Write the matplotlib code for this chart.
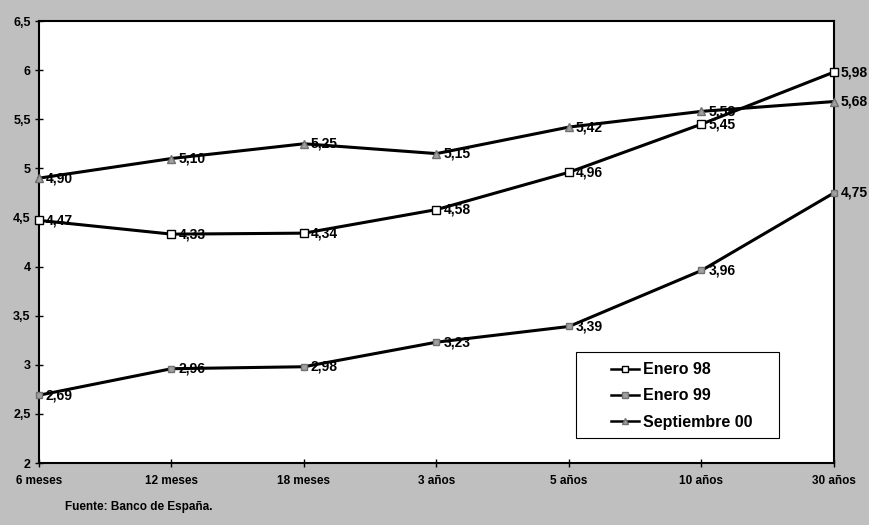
import matplotlib
matplotlib.use("Agg")
import matplotlib.pyplot as plt
from matplotlib.patches import Rectangle
from matplotlib.ticker import FuncFormatter

plt.rcParams['font.family'] = ['Liberation Sans', 'DejaVu Sans']
plt.rcParams['font.weight'] = 'bold'

plazos = ['6 meses', '12 meses', '18 meses', '3 años', '5 años', '10 años', '30 años']
enero_98 = [4.47, 4.33, 4.34, 4.58, 4.96, 5.45, 5.98]
enero_99 = [2.69, 2.96, 2.98, 3.23, 3.39, 3.96, 4.75]
septiembre_00 = [4.90, 5.10, 5.25, 5.15, 5.42, 5.58, 5.68]

W, H = 870, 525
fig = plt.figure(figsize=(W / 100, H / 100), dpi=100, facecolor='#bfbfbf')
ax = fig.add_axes([39 / W, 1 - 463 / H, 795 / W, 442 / H])
ax.set_facecolor('white')

x = list(range(len(plazos)))
series = [
    ('Enero 98', enero_98, dict(marker='s', markerfacecolor='white', markeredgecolor='black', markersize=6)),
    ('Enero 99', enero_99, dict(marker='s', markerfacecolor='#a0a0a0', markeredgecolor='#707070', markersize=5)),
    ('Septiembre 00', septiembre_00, dict(marker='^', markerfacecolor='#a0a0a0', markeredgecolor='#707070', markersize=6)),
]
for nombre, vals, estilo in series:
    ax.plot(x, vals, color='black', lw=2.2, label=nombre, clip_on=False, zorder=3, **estilo)
    for xi, v in zip(x, vals):
        ax.annotate(f'{v:.2f}'.replace('.', ','), (xi, v), xytext=(5, 0), textcoords='offset points',
                    ha='left', va='center', fontsize=10, fontweight='bold', zorder=4)

ax.set_xlim(0, len(plazos) - 1)
ax.set_ylim(2, 6.5)
ax.set_xticks(x)
ax.set_xticklabels(plazos, fontsize=8.5, fontweight='bold')
ax.set_yticks([2, 2.5, 3, 3.5, 4, 4.5, 5, 5.5, 6, 6.5])
ax.yaxis.set_major_formatter(FuncFormatter(lambda v, p: f'{v:g}'.replace('.', ',')))
for t in ax.get_yticklabels():
    t.set_fontsize(9)
    t.set_fontweight('bold')
ax.tick_params(direction='inout', length=6, width=1, colors='black')
ax.tick_params(axis='x', pad=6)
ax.tick_params(axis='y', pad=3)
for s in ax.spines.values():
    s.set_linewidth(1.5)

# cuadro de la leyenda
fig.add_artist(Rectangle((576 / W, 1 - 438 / H), 203 / W, 86 / H, transform=fig.transFigure,
                         facecolor='white', edgecolor='black', lw=0.8, zorder=5))
leg = fig.legend(loc='center left', bbox_to_anchor=(597 / W, 1 - 396 / H), frameon=False,
                 handlelength=1.7, handletextpad=0.25, labelspacing=0.7,
                 prop={'weight': 'bold', 'size': 11.5})
leg.set_zorder(6)
for h in leg.legend_handles:
    h.set_markersize(5)
    h.set_linewidth(1.8)

fig.text(65 / W, 1 - 507 / H, 'Fuente: Banco de España.', fontsize=8.5, fontweight='bold',
         ha='left', va='center')

fig.savefig('out.png', dpi=100, facecolor=fig.get_facecolor())
